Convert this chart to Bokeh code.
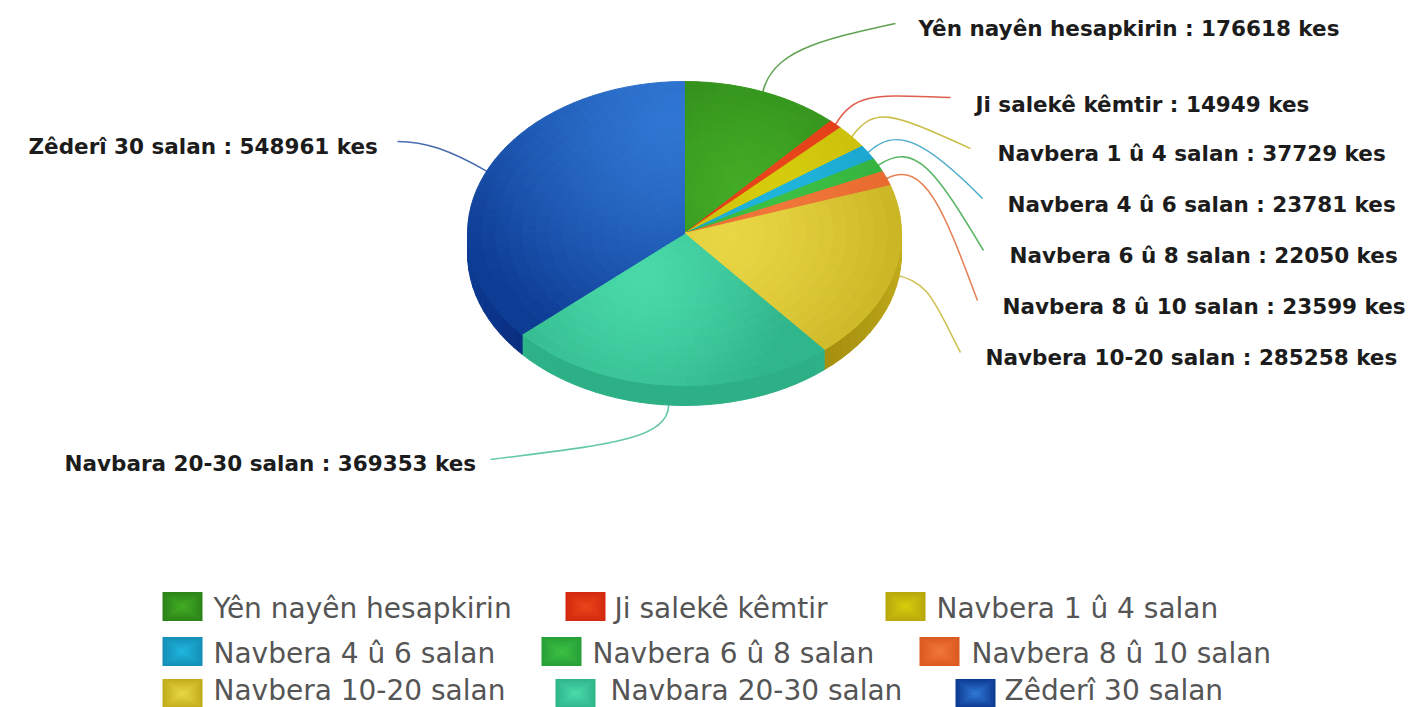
import math
from bokeh.plotting import figure
from bokeh.models import Range1d
from bokeh.core.properties import value
from bokeh.embed import file_html
from bokeh.resources import INLINE

categories = ["Yên nayên hesapkirin", "Ji salekê kêmtir", "Navbera 1 û 4 salan",
              "Navbera 4 û 6 salan", "Navbera 6 û 8 salan", "Navbera 8 û 10 salan",
              "Navbera 10-20 salan", "Navbara 20-30 salan", "Zêderî 30 salan"]
counts = [176618, 14949, 37729, 23781, 22050, 23599, 285258, 369353, 548961]
label_texts = ["Yên nayên hesapkirin : 176618 kes", "Ji salekê kêmtir : 14949 kes",
               "Navbera 1 û 4 salan : 37729 kes", "Navbera 4 û 6 salan : 23781 kes",
               "Navbera 6 û 8 salan : 22050 kes", "Navbera 8 û 10 salan : 23599 kes",
               "Navbera 10-20 salan : 285258 kes", "Navbara 20-30 salan : 369353 kes",
               "Zêderî 30 salan : 548961 kes"]

light = ["#42ab24", "#e8451a", "#d6cc0c", "#1fb4dc", "#3cc043", "#f0763a", "#e9d644", "#49d9a9", "#2f76d2"]
dark = ["#2c8418", "#d42a10", "#b8a80c", "#1490b8", "#28a038", "#dc5a20", "#c2ad1c", "#30b68b", "#0d3c94"]
side = ["#2c7a18", "#b02008", "#a09208", "#107898", "#208030", "#b84a18", "#a08a0c", "#2db086", "#082878"]
focus = [(745, 190), (780, 170), (780, 190), (780, 200), (780, 205), (780, 215),
         (725, 235), (640, 275), (672, 118)]
reach = [160, 200, 200, 200, 200, 200, 205, 150, 240]

label_x = [918, 975, 997, 1007, 1009, 1002, 985, 64, 28]
label_y = [28, 104, 153, 204, 255, 306, 357, 463, 146]
leader_ctrl = [((772, 52), (815, 40), (895, 23)), ((855, 90), (880, 95), (950, 97)),
               ((875, 105), (890, 112), (970, 148)), ((895, 125), (925, 140), (982, 198)),
               ((915, 140), (935, 170), (983, 250)), ((925, 158), (945, 215), (977, 300)),
               ((930, 280), (935, 305), (960, 352)), ((668, 440), (600, 445), (490, 459)),
               ((450, 150), (425, 141), (397, 141))]

legend_rows = [[0, 1, 2], [3, 4, 5], [6, 7, 8]]
legend_swatch_x = [[162, 565, 885], [162, 541, 919], [162, 555, 955]]
legend_text_x = [[213, 614, 936], [213, 592, 971], [213, 610, 1004]]
legend_y = [606, 651, 693]
legend_text_y = [608, 653, 690]

CX, CY, RX, RY, DEPTH = 684, 233, 217, 152, 20
SW, SH = 40, 29


def rgb(h):
    return tuple(int(h[i:i + 2], 16) for i in (1, 3, 5))


def mix(a, b, t):
    t = max(0.0, min(1.0, t))
    ca, cb = rgb(a), rgb(b)
    return "#%02x%02x%02x" % tuple(round(x + (y - x) * t) for x, y in zip(ca, cb))


def pt(theta, r=1.0, dy=0.0):
    return CX + RX * r * math.sin(theta), CY - RY * r * math.cos(theta) + dy


p = figure(width=1408, height=707, output_backend="svg", toolbar_location=None,
           x_range=Range1d(0, 1408), y_range=Range1d(707, 0), min_border=0,
           outline_line_color=None, background_fill_color="white")
p.axis.visible = False
p.grid.visible = False

total = sum(counts)
edges = [0.0]
for c in counts:
    edges.append(edges[-1] + c / total * 2 * math.pi)

# side wall (front half), blending into the top face towards the left and right rims
xs, ys, cols = [], [], []
for i in range(len(counts)):
    a0, a1 = max(edges[i], math.pi / 2), min(edges[i + 1], 3 * math.pi / 2)
    if a1 <= a0:
        continue
    n = max(1, int((a1 - a0) / math.radians(3)))
    for k in range(n):
        t0, t1 = a0 + (a1 - a0) * k / n, a0 + (a1 - a0) * (k + 1) / n
        q = [pt(t0), pt(t1), pt(t1, dy=DEPTH), pt(t0, dy=DEPTH)]
        xs.append([c[0] for c in q])
        ys.append([c[1] for c in q])
        cols.append(mix(dark[i], side[i], abs(math.cos((t0 + t1) / 2)) ** 1.5 * 1.3))
p.patches(xs, ys, fill_color=cols, line_color=cols, line_width=1)

# top face, shaded cell by cell
xs, ys, cols = [], [], []
RINGS = 16
for i in range(len(counts)):
    a0, a1 = edges[i], edges[i + 1]
    n = max(2, int((a1 - a0) / math.radians(3)))
    for k in range(n):
        t0, t1 = a0 + (a1 - a0) * k / n, a0 + (a1 - a0) * (k + 1) / n
        for j in range(RINGS):
            r0, r1 = j / RINGS, (j + 1) / RINGS
            q = [pt(t0, r0), pt(t1, r0), pt(t1, r1), pt(t0, r1)]
            mx, my = pt((t0 + t1) / 2, (r0 + r1) / 2)
            d = math.hypot(mx - focus[i][0], my - focus[i][1]) / reach[i]
            xs.append([c[0] for c in q])
            ys.append([c[1] for c in q])
            cols.append(mix(light[i], dark[i], d ** 1.4))
p.patches(xs, ys, fill_color=cols, line_color=cols, line_width=1)

# leader lines start at each slice's mid-angle on the rim
x0, y0, cx0, cy0, cx1, cy1, x1, y1, lc = [], [], [], [], [], [], [], [], []
for i in range(len(counts)):
    mid = (edges[i] + edges[i + 1]) / 2
    s = pt(mid, dy=DEPTH if math.pi * 0.9 < mid < math.pi * 1.1 else 0)
    c0, c1, e = leader_ctrl[i]
    x0.append(s[0]); y0.append(s[1]); cx0.append(c0[0]); cy0.append(c0[1])
    cx1.append(c1[0]); cy1.append(c1[1]); x1.append(e[0]); y1.append(e[1])
    lc.append(dark[i])
p.bezier(x0=x0, y0=y0, x1=x1, y1=y1, cx0=cx0, cy0=cy0, cx1=cx1, cy1=cy1,
         line_color=lc, line_width=1.6, line_alpha=0.75)

# data labels
p.text(x=label_x, y=label_y, text=label_texts, text_font=value("DejaVu Sans"),
       text_font_style="bold", text_font_size="21.5px", text_color="#1c1c1c",
       text_align="left", text_baseline="middle")

# legend swatches: nested rectangles from rim colour to centre colour
xs, ys, cols = [], [], []
tx, ty, tt = [], [], []
STEPS = 9
for r, row in enumerate(legend_rows):
    for c, idx in enumerate(row):
        sx, sy = legend_swatch_x[r][c], legend_y[r] - SH / 2
        for k in range(STEPS):
            f = k / STEPS * 0.5
            xa, xb = sx + SW * f, sx + SW * (1 - f)
            ya, yb = sy + SH * f, sy + SH * (1 - f)
            xs.append([xa, xb, xb, xa])
            ys.append([ya, ya, yb, yb])
            cols.append(mix(dark[idx], light[idx], k / (STEPS - 1)))
        tx.append(legend_text_x[r][c]); ty.append(legend_text_y[r]); tt.append(categories[idx])
p.patches(xs, ys, fill_color=cols, line_color=None)
p.text(x=tx, y=ty, text=tt, text_font=value("DejaVu Sans"), text_font_size="28px",
       text_color="#555555", text_align="left", text_baseline="middle")

open("out.html", "w").write(file_html(p, INLINE))
